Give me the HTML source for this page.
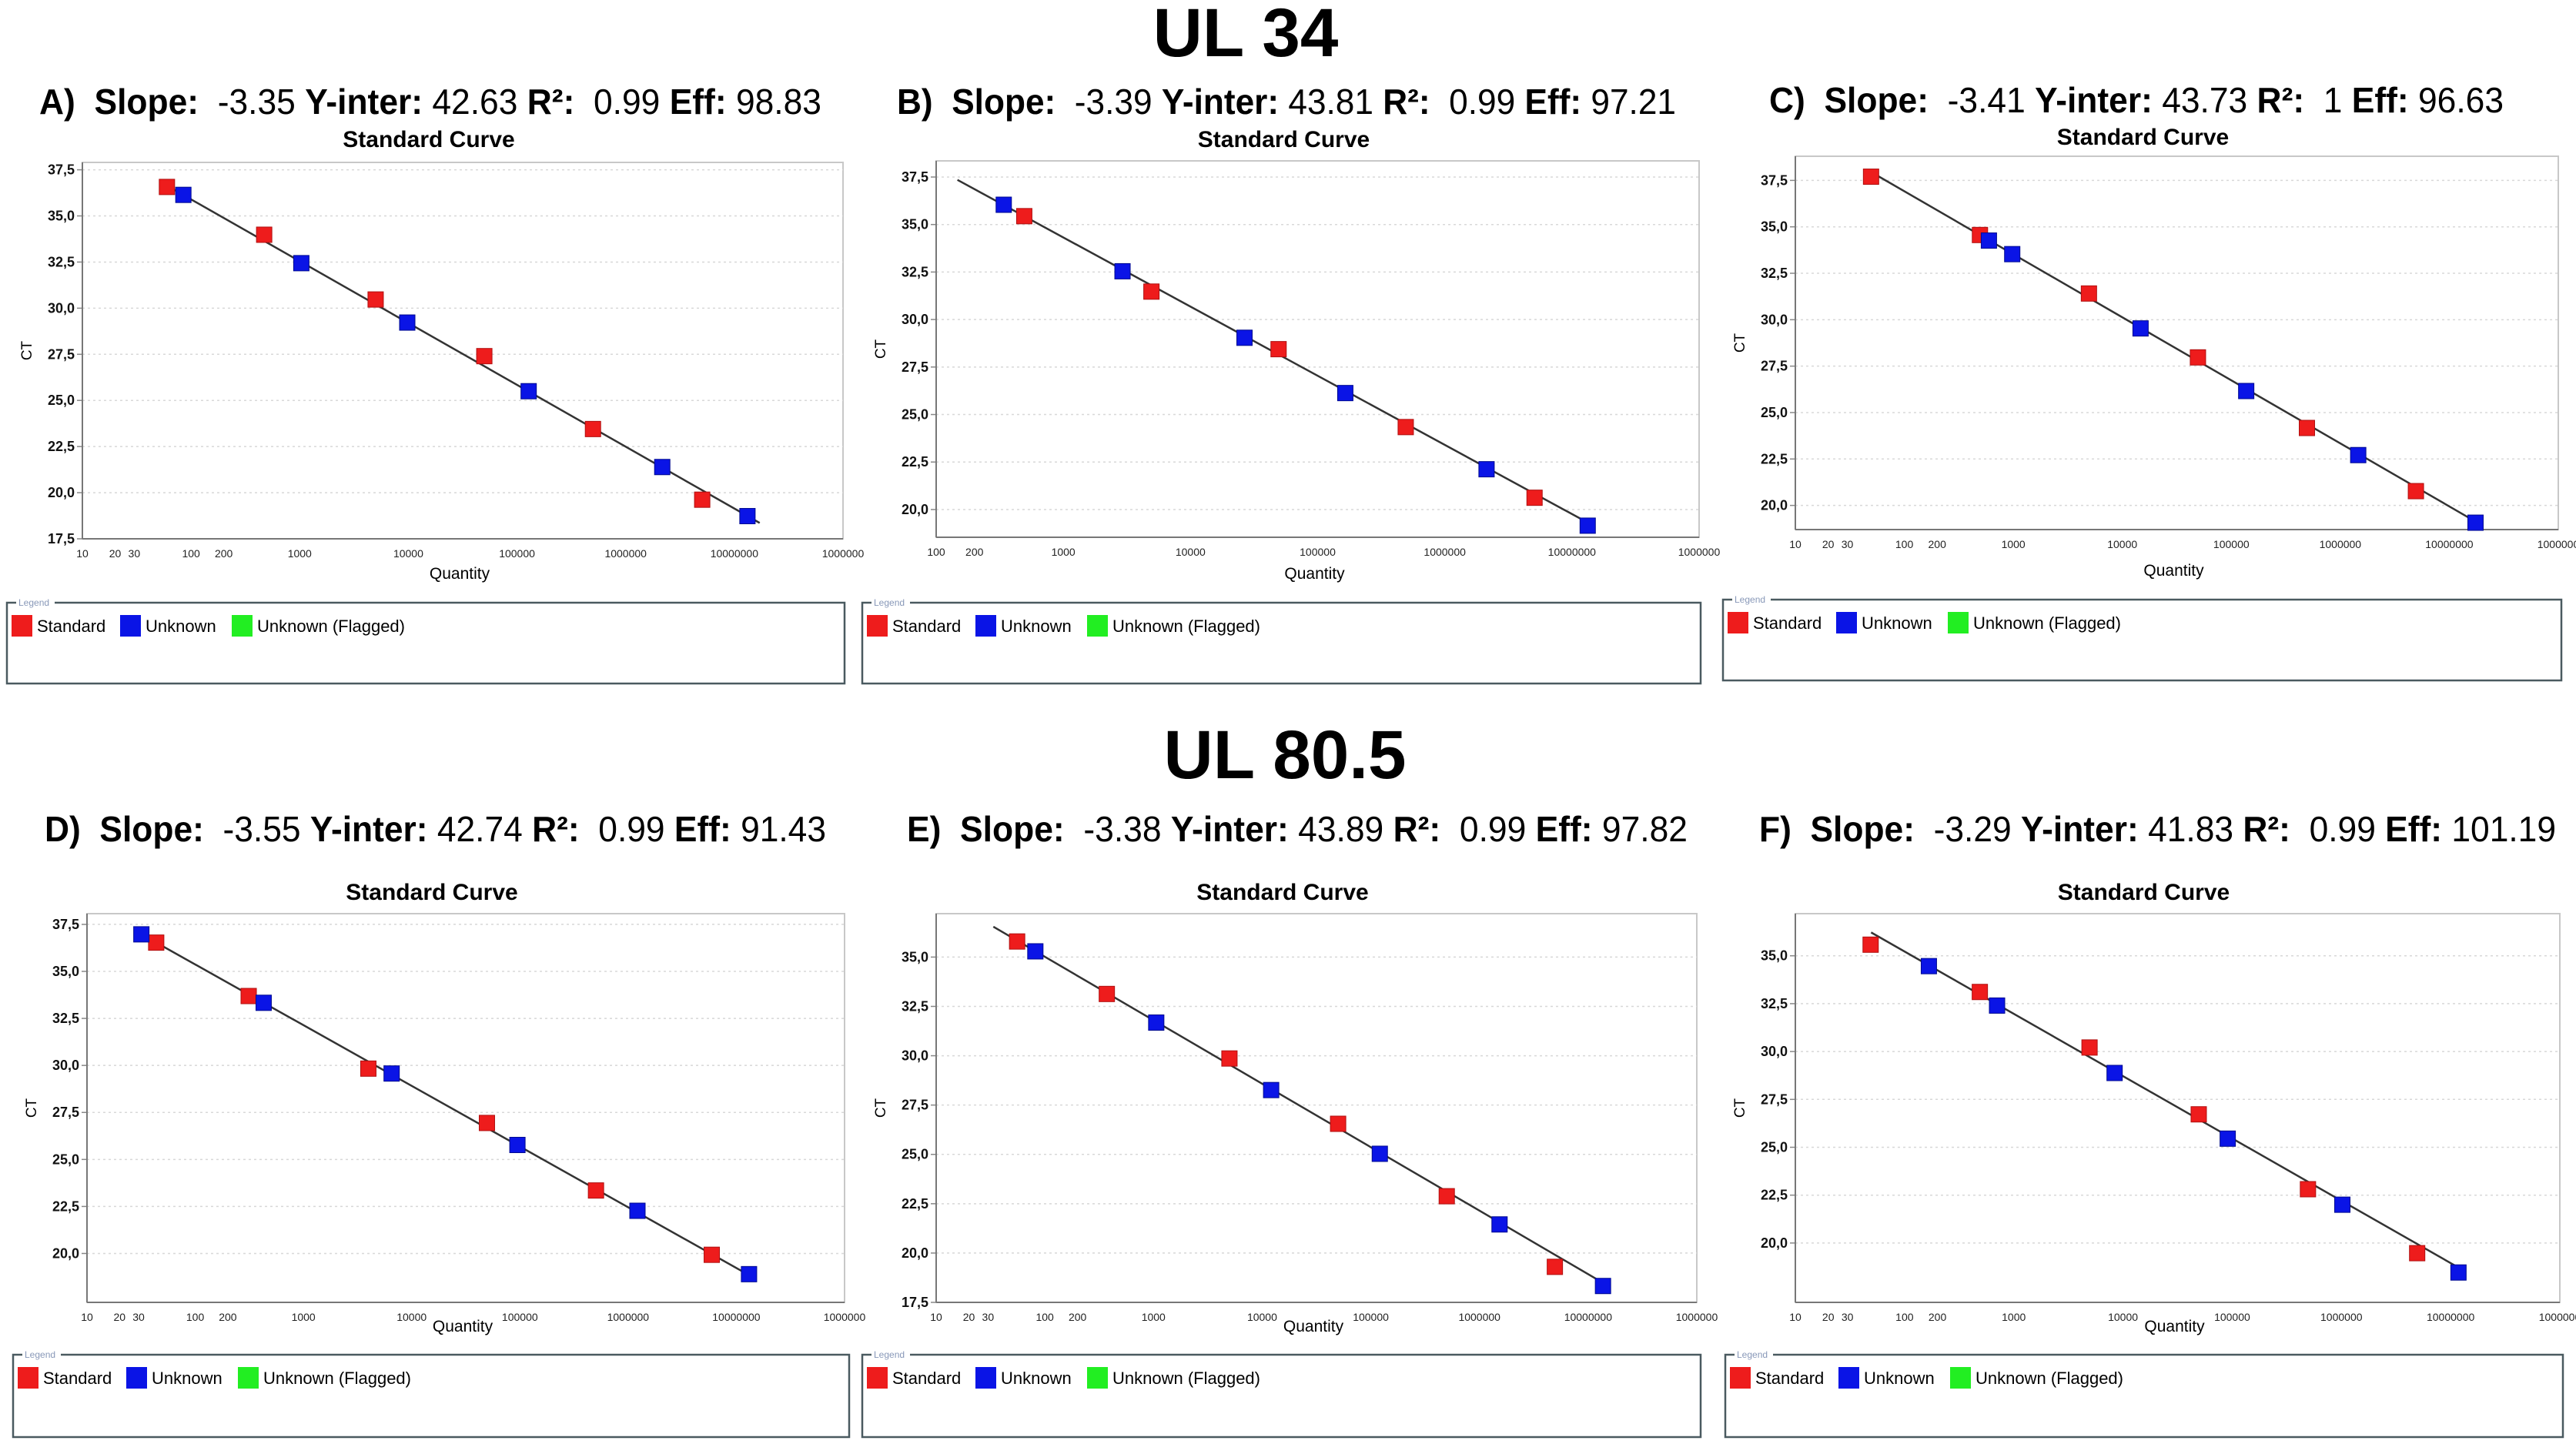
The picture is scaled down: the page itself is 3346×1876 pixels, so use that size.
<!DOCTYPE html>
<html><head><meta charset="utf-8"><style>
html,body{margin:0;padding:0;background:#fff}
svg{display:block}
text{font-family:"Liberation Sans",Arial,sans-serif}
</style></head><body>
<svg id="fig" width="3346" height="1876" viewBox="0 0 3346 1876" xmlns="http://www.w3.org/2000/svg">
<rect x="0" y="0" width="3346" height="1876" fill="#fff"/>
<text x="1618" y="73" font-size="89" font-weight="bold" text-anchor="middle">UL 34</text>
<text x="1669" y="1011" font-size="89" font-weight="bold" text-anchor="middle">UL 80.5</text>
</svg>
<script>
// ---------- DATA ----------
const aStdQty=[60,471,5000,50000,500000,5.06e6];
const aStdCt=[36.57,33.98,30.47,27.40,23.45,19.62];
const aUnkQty=[85,1035,9770,128000,2.17e6,1.32e7];
const aUnkCt=[36.14,32.44,29.22,25.5,21.39,18.73];
const aLineQty=[52,1.71e7];
const aLineCt=[36.85,18.36];

const bStdQty=[493,4930,49300,493000,5.08e6];
const bStdCt=[35.44,31.47,28.44,24.34,20.62];
const bUnkQty=[340,2920,26600,165000,2.13e6,1.33e7];
const bUnkCt=[36.04,32.54,29.04,26.13,22.12,19.15];
const bLineQty=[147,1.29e7];
const bLineCt=[37.35,19.36];

const cStdQty=[49.5,494,4940,49400,494000,4.94e6];
const cStdCt=[37.70,34.56,31.41,27.97,24.17,20.77];
const cUnkQty=[597,977,14700,137000,1.46e6,1.74e7];
const cUnkCt=[34.26,33.53,29.53,26.16,22.71,19.07];
const cLineQty=[50.6,1.89e7];
const cLineCt=[37.92,19.01];

const dStdQty=[43.6,312,3980,49600,505000,5.93e6];
const dStdCt=[36.53,33.69,29.83,26.94,23.35,19.93];
const dUnkQty=[31.8,429,6530,94900,1.22e6,1.31e7];
const dUnkCt=[36.97,33.33,29.57,25.77,22.27,18.90];
const dLineQty=[32.4,1.5e7];
const dLineCt=[36.95,18.66];

const eStdQty=[55.6,372,5000,50000,500000,4.94e6];
const eStdCt=[35.79,33.13,29.86,26.55,22.88,19.30];
const eUnkQty=[81.8,1060,12100,121000,1.53e6,1.37e7];
const eUnkCt=[35.29,31.68,28.26,25.03,21.45,18.33];
const eLineQty=[33.6,1.42e7];
const eLineCt=[36.54,18.44];

const fStdQty=[48.9,489,4940,49400,494000,4.94e6];
const fStdCt=[35.58,33.11,30.21,26.72,22.81,19.47];
const fUnkQty=[167,703,8380,91000,1.02e6,1.18e7];
const fUnkCt=[34.46,32.40,28.88,25.45,22.00,18.46];
const fLineQty=[49.4,1.32e7];
const fLineCt=[36.22,18.56];

const xTicksFrom10=[10,20,30,100,200,1000,10000,100000,1000000,10000000,100000000];
const xTickLabelsFrom10=["10","20","30","100","200","1000","10000","100000","1000000","10000000","1000000"];
const xTicksFrom100=[100,200,1000,10000,100000,1000000,10000000,100000000];
const xTickLabelsFrom100=["100","200","1000","10000","100000","1000000","10000000","1000000"];
const yTicksA=[17.5,20,22.5,25,27.5,30,32.5,35,37.5];
const yTicks20=[20,22.5,25,27.5,30,32.5,35,37.5];
const yTicksE=[17.5,20,22.5,25,27.5,30,32.5,35];
const yTicksF=[20,22.5,25,27.5,30,32.5,35];

const headerA=["A)","-3.35","42.63","0.99","98.83"];
const headerB=["B)","-3.39","43.81","0.99","97.21"];
const headerC=["C)","-3.41","43.73","1","96.63"];
const headerD=["D)","-3.55","42.74","0.99","91.43"];
const headerE=["E)","-3.38","43.89","0.99","97.82"];
const headerF=["F)","-3.29","41.83","0.99","101.19"];

// ---------- LAYOUT ----------
const panels=[
 {id:'a',hdr:headerA,hx:51,hw:1016,hy:148,sty:191,L:107,R:1095,T:211,B:700,xmin:10,ymin:17.5,ymax:37.9,xt:xTicksFrom10,xl:xTickLabelsFrom10,yt:yTicksA,lg:[9,783,1088,105],qy:752,
  sq:aStdQty,sc:aStdCt,uq:aUnkQty,uc:aUnkCt,lq:aLineQty,lc:aLineCt},
 {id:'b',hdr:headerB,hx:1165,hw:1012,hy:148,sty:191,L:1216,R:2207,T:209,B:698,xmin:100,ymin:18.54,ymax:38.35,xt:xTicksFrom100,xl:xTickLabelsFrom100,yt:yTicks20,lg:[1120,783,1089,105],qy:752,
  sq:bStdQty,sc:bStdCt,uq:bUnkQty,uc:bUnkCt,lq:bLineQty,lc:bLineCt},
 {id:'c',hdr:headerC,hx:2298,hw:954,hy:146,sty:188,L:2332,R:3323,T:203,B:688,xmin:10,ymin:18.7,ymax:38.8,xt:xTicksFrom10,xl:xTickLabelsFrom10,yt:yTicks20,lg:[2238,779,1089,105],qy:748,
  sq:cStdQty,sc:cStdCt,uq:cUnkQty,uc:cUnkCt,lq:cLineQty,lc:cLineCt},
 {id:'d',hdr:headerD,hx:58,hw:1015,hy:1093,sty:1169,L:113,R:1097,T:1187,B:1692,xmin:10,ymin:17.4,ymax:38.07,xt:xTicksFrom10,xl:xTickLabelsFrom10,yt:yTicks20,lg:[17,1760,1086,107],qy:1730,
  sq:dStdQty,sc:dStdCt,uq:dUnkQty,uc:dUnkCt,lq:dLineQty,lc:dLineCt},
 {id:'e',hdr:headerE,hx:1178,hw:1014,hy:1093,sty:1169,L:1216,R:2204,T:1187,B:1692,xmin:10,ymin:17.5,ymax:37.2,xt:xTicksFrom10,xl:xTickLabelsFrom10,yt:yTicksE,lg:[1120,1760,1089,107],qy:1730,
  sq:eStdQty,sc:eStdCt,uq:eUnkQty,uc:eUnkCt,lq:eLineQty,lc:eLineCt},
 {id:'f',hdr:headerF,hx:2285,hw:1035,hy:1093,sty:1169,L:2332,R:3325,T:1187,B:1692,xmin:10,ymin:16.9,ymax:37.2,xt:xTicksFrom10,xl:xTickLabelsFrom10,yt:yTicksF,lg:[2241,1760,1088,107],qy:1730,
  sq:fStdQty,sc:fStdCt,uq:fUnkQty,uc:fUnkCt,lq:fLineQty,lc:fLineCt}
];
const NS='http://www.w3.org/2000/svg';
const svg=document.getElementById('fig');
function mk(tag,attrs,parent,txt){const e=document.createElementNS(NS,tag);for(const k in attrs)e.setAttribute(k,attrs[k]);if(txt!==undefined)e.textContent=txt;(parent||svg).appendChild(e);return e;}
const NARROW='"Liberation Sans Narrow","Liberation Sans",Arial,sans-serif';

panels.forEach(p=>{
  const g=mk('g',{});
  
  
  const lx0=Math.log10(p.xmin), lx1=8;
  const X=q=>p.L+(Math.log10(q)-lx0)/(lx1-lx0)*(p.R-p.L);
  const Y=v=>p.B-(v-p.ymin)/(p.ymax-p.ymin)*(p.B-p.T);
  // header
  const h=mk('text',{x:p.hx,y:p.hy,'font-size':46,textLength:p.hw,lengthAdjust:'spacingAndGlyphs'},g);
  
  
  const parts=[[p.hdr[0]+'  ',1],['Slope:  ',1],[p.hdr[1]+' ',0],['Y-inter: ',1],[p.hdr[2]+' ',0],['R²:  ',1],[p.hdr[3]+' ',0],['Eff: ',1],[p.hdr[4],0]];
  parts.forEach(pt=>{mk('tspan',{'font-weight':pt[1]?'bold':'normal'},h,pt[0]);});
  h.setAttribute('xml:space','preserve');h.style.whiteSpace='pre';
  // chart title
  const st=mk('text',{x:(p.L+p.R)/2-44,y:p.sty,'font-size':30,'font-weight':'bold','text-anchor':'middle'},g,'Standard Curve');
  
  
  // plot bg/border
  const pb=mk('rect',{x:p.L,y:p.T,width:p.R-p.L,height:p.B-p.T,fill:'#fff',stroke:'#c8c8c8','stroke-width':2},g);
  
  
  // grid + y ticks
  p.yt.forEach(v=>{
    const y=Y(v);
    const gl=mk('line',{x1:p.L,x2:p.R,y1:y,y2:y,stroke:'#d8d8d8','stroke-width':1.5,'stroke-dasharray':'3 4'},g);
    
    
    mk('line',{x1:p.L-7,x2:p.L,y1:y,y2:y,stroke:'#888','stroke-width':1.5},g);
    const t=mk('text',{x:p.L-10,y:y+6,'font-size':18,'text-anchor':'end','font-family':NARROW,fill:'#111','font-weight':'bold'},g,v.toFixed(1).replace('.',','));
    
    
  });
  // axes
  mk('line',{x1:p.L,x2:p.L,y1:p.T,y2:p.B,stroke:'#777','stroke-width':2},g);
  mk('line',{x1:p.L,x2:p.R,y1:p.B,y2:p.B,stroke:'#777','stroke-width':2},g);
  // x ticks
  p.xt.forEach((v,i)=>{
    const x=X(v);
    const t=mk('text',{x:x,y:p.B+24,'font-size':14,'text-anchor':'middle','font-family':NARROW,fill:'#222'},g,p.xl[i]);
    
    
  });
  const xa=mk('text',{x:(p.L+p.R)/2-4,y:p.qy,'font-size':21,'text-anchor':'middle','font-family':NARROW},g,'Quantity');
  
  
  const yx=p.L-66, yy=(p.T+p.B)/2;
  const ya=mk('text',{x:yx,y:yy,'font-size':19,'text-anchor':'middle',transform:`rotate(-90 ${yx} ${yy})`},g,'CT');
  
  
  // fit line
  const fl=mk('line',{x1:X(p.lq[0]),y1:Y(p.lc[0]),x2:X(p.lq[1]),y2:Y(p.lc[1]),stroke:'#333','stroke-width':2.5},g);
  
  
  // points
  const S=20;
  p.sq.forEach((q,i)=>{
    const r=mk('rect',{x:X(q)-S/2,y:Y(p.sc[i])-S/2,width:S,height:S,fill:'#ee1c1c',stroke:'#b01010','stroke-width':1},g);
    
    
  });
  p.uq.forEach((q,i)=>{
    const r=mk('rect',{x:X(q)-S/2,y:Y(p.uc[i])-S/2,width:S,height:S,fill:'#0a14e6',stroke:'#000a90','stroke-width':1},g);
    
    
  });
  // legend
  const [lx,ly,lw,lh]=p.lg;
  const lgG=mk('g',{},g);
  
  
  mk('rect',{x:lx,y:ly,width:lw,height:lh,fill:'#fff',stroke:'#4a5a60','stroke-width':2.5},lgG);
  mk('rect',{x:lx+12,y:ly-10,width:50,height:18,fill:'#fff'},lgG);
  mk('text',{x:lx+15,y:ly+4,'font-size':12,fill:'#8898b8','font-family':NARROW},lgG,'Legend');
  const items=[[6,'#ee1c1c','Standard'],[147,'#0a14e6','Unknown'],[292,'#22ee22','Unknown (Flagged)']];
  items.forEach(it=>{
    const e=mk('g',{},lgG);
    
    
    mk('rect',{x:lx+it[0],y:ly+16,width:27,height:28,fill:it[1]},e);
    mk('text',{x:lx+it[0]+33,y:ly+38,'font-size':22,'font-family':NARROW},e,it[2]);
  });
});
</script>
</body></html>
